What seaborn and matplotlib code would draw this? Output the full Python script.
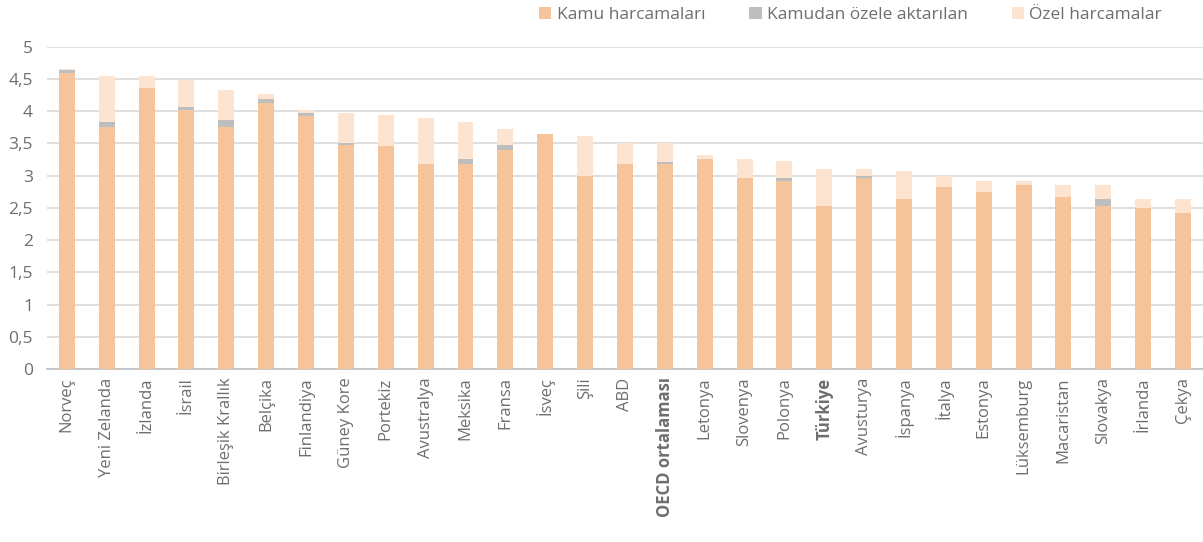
import matplotlib
matplotlib.use("Agg")
import matplotlib.pyplot as plt
from matplotlib.patches import Patch
from matplotlib.ticker import FixedLocator
import numpy as np
import pandas as pd
import seaborn as sns

countries = [
    "Norveç", "Yeni Zelanda", "İzlanda", "İsrail", "Birleşik Krallık", "Belçika",
    "Finlandiya", "Güney Kore", "Portekiz", "Avustralya", "Meksika", "Fransa",
    "İsveç", "Şili", "ABD", "OECD ortalaması", "Letonya", "Slovenya", "Polonya",
    "Türkiye", "Avusturya", "İspanya", "İtalya", "Estonya", "Lüksemburg",
    "Macaristan", "Slovakya", "İrlanda", "Çekya",
]
kamu = [4.59, 3.76, 4.36, 4.01, 3.76, 4.12, 3.93, 3.47, 3.46, 3.18, 3.18, 3.40,
        3.65, 3.00, 3.18, 3.18, 3.25, 2.96, 2.92, 2.53, 2.96, 2.64, 2.82, 2.74,
        2.86, 2.67, 2.53, 2.50, 2.42]
aktarilan = [0.04, 0.07, 0.00, 0.06, 0.10, 0.07, 0.04, 0.03, 0.00, 0.00, 0.07, 0.07,
             0.00, 0.00, 0.00, 0.03, 0.00, 0.00, 0.04, 0.00, 0.04, 0.00, 0.00, 0.00,
             0.00, 0.00, 0.11, 0.00, 0.00]
ozel = [0.02, 0.71, 0.18, 0.41, 0.47, 0.07, 0.04, 0.47, 0.48, 0.72, 0.58, 0.25,
        0.00, 0.61, 0.32, 0.29, 0.07, 0.29, 0.26, 0.57, 0.10, 0.43, 0.18, 0.18,
        0.06, 0.18, 0.21, 0.14, 0.22]
bold_labels = ["OECD ortalaması", "Türkiye"]
series_names = ["Kamu harcamaları", "Kamudan özele aktarılan", "Özel harcamalar"]
yticks = [0, 0.5, 1, 1.5, 2, 2.5, 3, 3.5, 4, 4.5, 5]

c_kamu = "#F6C49A"
c_akt = "#BDBEC0"
c_ozel = "#FCE4D1"
text_col = "#6E6E6E"

df = pd.DataFrame({"ulke": countries, "kamu": kamu, "aktarilan": aktarilan, "ozel": ozel})
df["top_kamu_akt"] = df["kamu"] + df["aktarilan"]
df["toplam"] = df["top_kamu_akt"] + df["ozel"]

sns.set_theme(style="white")
plt.rcParams["font.family"] = ["Open Sans", "DejaVu Sans"]

fig = plt.figure(figsize=(12.03, 5.42), dpi=100)
ax = fig.add_axes([0.039, 0.319, 0.961, 0.595])

# stacked bars drawn back to front with cumulative heights
for col, color in [("toplam", c_ozel), ("top_kamu_akt", c_akt), ("kamu", c_kamu)]:
    sns.barplot(data=df, x="ulke", y=col, color=color, saturation=1, width=0.4,
                ax=ax, errorbar=None, linewidth=0, zorder=3)

ax.set_ylim(0, 5)
ax.set_xlim(-0.5, len(countries) - 0.5)
ax.set_yticks(yticks)
ax.set_yticklabels([f"{v:g}".replace(".", ",") for v in yticks], color=text_col, fontsize=12.5)
ax.yaxis.grid(True, color="#D9D9D9", linewidth=1.2, zorder=0)
ax.set_axisbelow(True)
ax.set_xlabel("")
ax.set_ylabel("")
for s in ["top", "right", "left"]:
    ax.spines[s].set_visible(False)
ax.spines["bottom"].set_color("#BFBFBF")
ax.spines["bottom"].set_linewidth(1.2)
ax.tick_params(axis="y", length=0, pad=10)

ax.set_xticks(range(len(countries)))
ax.set_xticklabels(countries, rotation=90, color=text_col, fontsize=12)
for lbl in ax.get_xticklabels():
    if lbl.get_text() in bold_labels:
        lbl.set_fontweight("bold")
ax.tick_params(axis="x", which="major", length=0, pad=6)
ax.xaxis.set_minor_locator(FixedLocator(np.arange(-0.5, len(countries), 1.0)))
ax.tick_params(axis="x", which="minor", length=4, color="#BFBFBF", width=1)

handles = [Patch(facecolor=c, edgecolor="none") for c in (c_kamu, c_akt, c_ozel)]
fig.legend(handles, series_names, loc="center", bbox_to_anchor=(0.707, 0.972), ncol=3,
           frameon=False, fontsize=12.5, handlelength=0.7, handleheight=0.7,
           handletextpad=0.3, columnspacing=2.55, labelcolor=text_col)

fig.savefig("out.png", dpi=100)
